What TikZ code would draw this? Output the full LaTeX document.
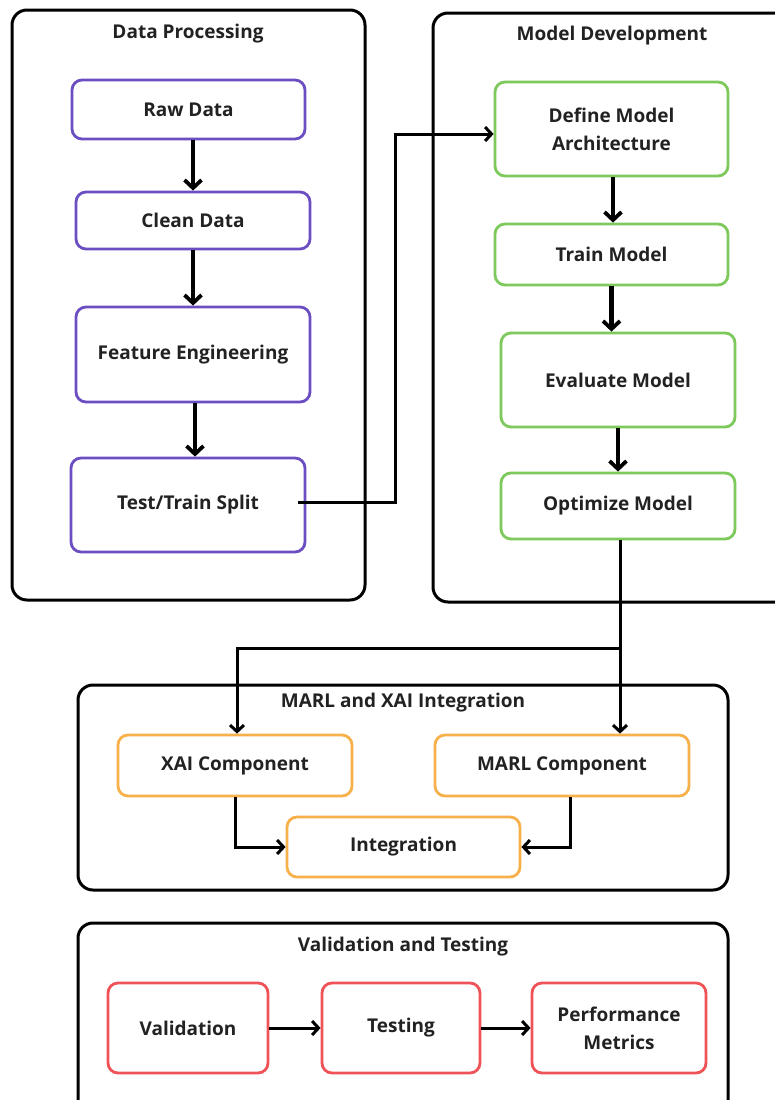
\documentclass[tikz,border=0pt]{standalone}
\usepackage{fontspec}
\setmainfont{Open Sans}
\usetikzlibrary{arrows.meta}
\definecolor{purp}{HTML}{6B4FC2}
\definecolor{grn}{HTML}{7DC95B}
\definecolor{orng}{HTML}{F8B04B}
\definecolor{rd}{HTML}{EF5358}
\definecolor{txt}{HTML}{222222}
\begin{document}
\begin{tikzpicture}[x=1pt,y=-1pt,
  container/.style={draw=black, line width=3pt, rounded corners=15pt},
  title/.style={font=\fontsize{19}{22}\selectfont\bfseries, text=txt},
  box/.style={draw, line width=2.8pt, rounded corners=10pt, inner sep=0pt, align=center,
    font=\fontsize{19}{28}\selectfont\bfseries, text=txt, fill=white},
  pbox/.style={box, draw=purp},
  gbox/.style={box, draw=grn},
  obox/.style={box, draw=orng},
  rbox/.style={box, draw=rd},
  thick arrow/.style={line width=4.2pt, -{Straight Barb[length=8pt,width=17pt,line width=3.8pt]}},
  conn/.style={line width=3pt, -{Straight Barb[length=6.5pt,width=14pt,line width=3pt]}}
]
\fill[white] (0,0) rectangle (775,1100);
\clip (0,0) rectangle (775,1100);

% containers
\draw[container] (12,10) rectangle (365,600);
\draw[container] (433,13) rectangle (795,602);
\draw[container] (78,685) rectangle (728,890);
\draw[container] (78,923) rectangle (728,1120);

% titles
\node[title] (tdp) at (188,34) {Data Processing};
\node[title] (tmd) at (612,36) {Model Development};
\node[title] (tmx) at (403,703) {MARL and XAI Integration};
\node[title] (tvt) at (403,947) {Validation and Testing};

% data processing
\node[pbox, minimum width=233pt, minimum height=59pt] (raw) at (188.5,109.5) {Raw Data};
\node[pbox, minimum width=234pt, minimum height=57pt] (clean) at (193,220.5) {Clean Data};
\node[pbox, minimum width=234pt, minimum height=95pt] (feat) at (193,354.5) {Feature Engineering};
\node[pbox, minimum width=234pt, minimum height=94pt] (tt) at (188,505) {Test/Train Split};

% model development
\node[gbox, minimum width=233pt, minimum height=94pt] (def) at (611.5,129) {Define Model\\Architecture};
\node[gbox, minimum width=233pt, minimum height=61pt] (train) at (611.5,254.5) {Train Model};
\node[gbox, minimum width=234pt, minimum height=94pt] (eval) at (618,380) {Evaluate Model};
\node[gbox, minimum width=234pt, minimum height=66pt] (opt) at (618,506) {Optimize Model};

% MARL and XAI
\node[obox, minimum width=234pt, minimum height=61pt] (xai) at (235,765.5) {XAI Component};
\node[obox, minimum width=254pt, minimum height=61pt] (marl) at (562,765.5) {MARL Component};
\node[obox, minimum width=233pt, minimum height=60pt] (integ) at (403.5,847) {Integration};

% validation
\node[rbox, minimum width=160pt, minimum height=90pt] (val) at (188,1028) {Validation};
\node[rbox, minimum width=158pt, minimum height=90pt] (test) at (401,1028) {Testing};
\node[rbox, minimum width=174pt, minimum height=90pt] (perf) at (619,1028) {Performance\\Metrics};

% arrows in columns
\draw[thick arrow] (raw.south -| clean.north) -- (clean.north);
\draw[thick arrow] (clean.south) -- (feat.north);
\draw[thick arrow] ([xshift=2pt]feat.south) -- ([xshift=2pt]feat.south |- tt.north);
\draw[thick arrow] ([xshift=1.5pt]def.south) -- ([xshift=1.5pt]def.south |- train.north);
\draw[thick arrow] (train.south) -- (train.south |- eval.north);
\draw[thick arrow] (eval.south) -- (opt.north);

% test/train split to define model
\coordinate (j1) at (395,0);
\coordinate (j2) at (0,648);
\draw[conn] ([xshift=-8pt,yshift=3pt]tt.east) -- ([yshift=3pt]tt.east -| j1) -- ([yshift=-5pt]j1 |- def.west) -- ([yshift=-5pt]def.west);

% optimize to components
\draw[conn] ([xshift=2pt]opt.south) -- ([xshift=2pt]opt.south |- marl.north);
\draw[conn] ([xshift=2pt]opt.south) -- ([xshift=2pt]opt.south |- j2) -| ([xshift=2pt]xai.north);

% into integration
\draw[conn] (xai.south) |- (integ.west);
\draw[conn] ([xshift=8pt]marl.south) |- (integ.east);

% validation chain
\draw[conn] (val.east) -- (test.west);
\draw[conn] (test.east) -- (perf.west);
\end{tikzpicture}
\end{document}
